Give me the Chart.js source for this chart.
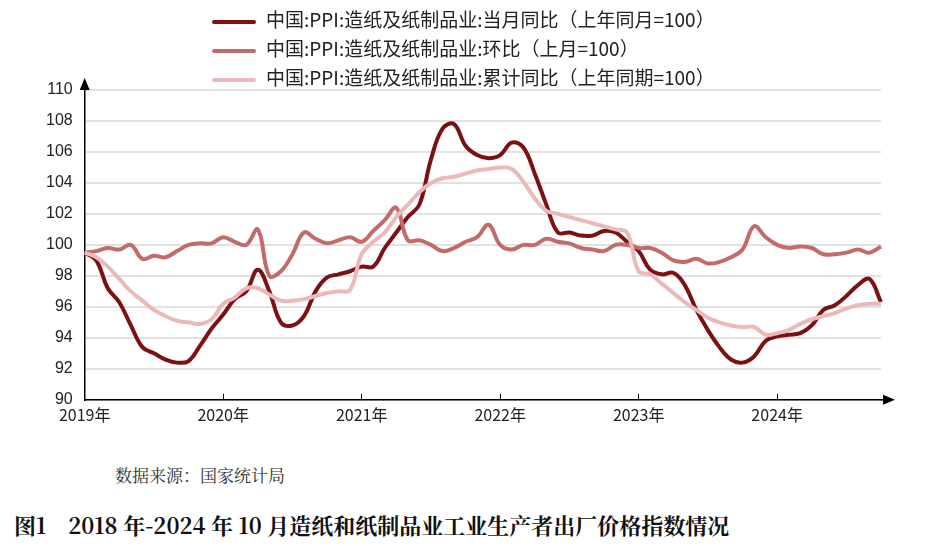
<!DOCTYPE html>
<html><head><meta charset="utf-8">
<script src="https://cdn.jsdelivr.net/npm/chart.js@4"></script>
<style>
body{margin:0;background:#fff;font-family:"Noto Sans CJK SC","Noto Sans",sans-serif;}
#wrap{position:relative;width:941px;height:546px;}
#cv{position:absolute;left:0;top:0;}
.lg{position:absolute;left:212px;font-size:19px;color:#222;height:24px;line-height:24px;}
.lg span{display:inline-block;width:44px;height:4px;vertical-align:middle;margin-right:10px;border-radius:2px;}
#src{position:absolute;left:115px;top:462px;font-size:17px;color:#333;font-family:"Noto Serif CJK SC","Noto Sans CJK SC",serif;}
#ttl{position:absolute;left:14px;top:509px;font-size:22px;font-weight:bold;color:#111;font-family:"Noto Serif CJK SC","Noto Sans CJK SC",serif;}
</style></head><body>
<div id="wrap">
<canvas id="cv" width="941" height="437"></canvas>
<div class="lg" style="top:7px"><span style="background:#7b1113"></span>中国:PPI:造纸及纸制品业:当月同比（上年同月=100）</div>
<div class="lg" style="top:36px"><span style="background:#c26b6b"></span>中国:PPI:造纸及纸制品业:环比（上月=100）</div>
<div class="lg" style="top:65px"><span style="background:#ebb9b9"></span>中国:PPI:造纸及纸制品业:累计同比（上年同期=100）</div>
<div id="src">数据来源：国家统计局</div>
<div id="ttl">图1&nbsp;&nbsp;&nbsp;&nbsp;2018 年-2024 年 10 月造纸和纸制品业工业生产者出厂价格指数情况</div>
</div>
<script>
// months Jan 2019 .. Oct 2024
const years = [2019, 2020, 2021, 2022, 2023, 2024];
const months = [];
years.forEach(y => { for (let m = 1; m <= 12; m++) { if (y === 2024 && m > 10) break; months.push(y + '-' + m); } });

const yoy = [
  99.5, 99.0, 97.2, 96.3, 94.8, 93.4, 93.0, 92.6, 92.4, 92.5, 93.5, 94.6,
  95.5, 96.5, 97.0, 98.4, 97.0, 95.0, 94.8, 95.4, 97.0, 97.9, 98.1, 98.3,
  98.6, 98.6, 99.8, 100.8, 101.8, 102.6, 105.5, 107.5, 107.8, 106.4, 105.8, 105.6,
  105.8, 106.6, 106.3, 104.6, 102.6, 100.8, 100.8, 100.6, 100.6, 100.9, 100.8, 100.2,
  99.6, 98.4, 98.1, 98.2, 97.4, 95.8, 94.5, 93.4, 92.6, 92.4, 92.8, 93.8,
  94.1, 94.2, 94.3, 94.8, 95.8, 96.1, 96.7, 97.4, 97.8, 96.3
];
const mom = [
  99.5, 99.6, 99.8, 99.7, 100.0, 99.1, 99.3, 99.2, 99.6, 100.0, 100.1, 100.1,
  100.5, 100.2, 100.0, 101.0, 98.0, 98.3, 99.4, 100.8, 100.4, 100.1, 100.3, 100.5,
  100.2, 100.9, 101.6, 102.4, 100.3, 100.3, 100.0, 99.6, 99.8, 100.2, 100.5, 101.3,
  100.0, 99.7, 100.0, 100.0, 100.4, 100.2, 100.1, 99.8, 99.7, 99.6, 100.0, 100.0,
  99.8, 99.8, 99.5, 99.0, 98.9, 99.1, 98.8, 98.9, 99.2, 99.7, 101.2, 100.5,
  100.0, 99.8, 99.9, 99.8, 99.4, 99.4, 99.5, 99.7, 99.5, 99.9
];
const ytd = [
  99.5, 99.2, 98.6, 97.8, 97.0, 96.4, 95.8, 95.4, 95.1, 95.0, 94.9, 95.2,
  96.2, 96.6, 97.2, 97.2, 96.8, 96.4, 96.4, 96.5, 96.7, 96.9, 97.0, 97.1,
  99.4, 100.2, 100.8, 101.8, 102.6, 103.4, 104.0, 104.3, 104.4, 104.6, 104.8, 104.9,
  105.0, 104.9, 104.1, 103.0, 102.2, 102.0, 101.8, 101.6, 101.4, 101.2, 101.0, 100.8,
  98.3, 98.1, 97.5, 96.9, 96.3, 95.8, 95.3, 95.0, 94.8, 94.7, 94.7, 94.2,
  94.3, 94.5, 94.9, 95.2, 95.4, 95.6, 95.9, 96.1, 96.2, 96.2
];
const yTicks = [90, 92, 94, 96, 98, 100, 102, 104, 106, 108, 110];

// axis arrows
const arrows = {
  id: 'arrows',
  afterDraw(c) {
    const ctx = c.ctx, a = c.chartArea;
    ctx.save();
    ctx.fillStyle = '#000';
    ctx.beginPath();
    ctx.moveTo(a.left, a.top - 12); ctx.lineTo(a.left - 5, a.top); ctx.lineTo(a.left + 5, a.top); ctx.fill();
    ctx.beginPath();
    ctx.moveTo(a.right + 14, a.bottom); ctx.lineTo(a.right + 2, a.bottom - 5); ctx.lineTo(a.right + 2, a.bottom + 5); ctx.fill();
    ctx.strokeStyle = '#000'; ctx.lineWidth = 1.5;
    ctx.beginPath(); ctx.moveTo(a.left, a.top - 4); ctx.lineTo(a.left, a.top); ctx.stroke();
    ctx.beginPath(); ctx.moveTo(a.right, a.bottom); ctx.lineTo(a.right + 4, a.bottom); ctx.stroke();
    ctx.restore();
  }
};

const ds = (label, data, color) => ({ label, data, borderColor: color, borderWidth: 4, pointRadius: 0, tension: 0.4, fill: false });

new Chart(document.getElementById('cv'), {
  type: 'line',
  data: {
    labels: months,
    datasets: [
      ds('中国:PPI:造纸及纸制品业:累计同比（上年同期=100）', ytd, '#ebb9b9'),
      ds('中国:PPI:造纸及纸制品业:环比（上月=100）', mom, '#c26b6b'),
      ds('中国:PPI:造纸及纸制品业:当月同比（上年同月=100）', yoy, '#7b1113')
    ]
  },
  options: {
    responsive: false,
    animation: false,
    layout: { padding: { left: 34, right: 60, top: 90, bottom: 0 } },
    plugins: { legend: { display: false }, tooltip: { enabled: false } },
    scales: {
      x: {
        offset: false,
        grid: { display: true, drawOnChartArea: false, color: '#000', tickLength: -6,
          lineWidth: ctx => (ctx.tick && ctx.tick.label) ? 1 : 0 },
        border: { color: '#000', width: 1.5 },
        ticks: {
          autoSkip: false, maxRotation: 0, padding: 12,
          color: '#222', font: { size: 16, family: '"Noto Sans CJK SC"' },
          callback: (v, i) => months[i].endsWith('-1') ? months[i].split('-')[0] + '年' : ''
        }
      },
      y: {
        min: 90, max: 110,
        afterBuildTicks: ax => { ax.ticks = yTicks.map(v => ({ value: v })); },
        grid: { color: '#e2e2e2', lineWidth: 2, tickLength: 6, drawTicks: false },
        border: { color: '#000', width: 1.5 },
        ticks: { color: '#222', padding: 12, font: { size: 16, family: 'Liberation Sans' } }
      }
    }
  },
  plugins: [arrows]
});
</script>
</body></html>
